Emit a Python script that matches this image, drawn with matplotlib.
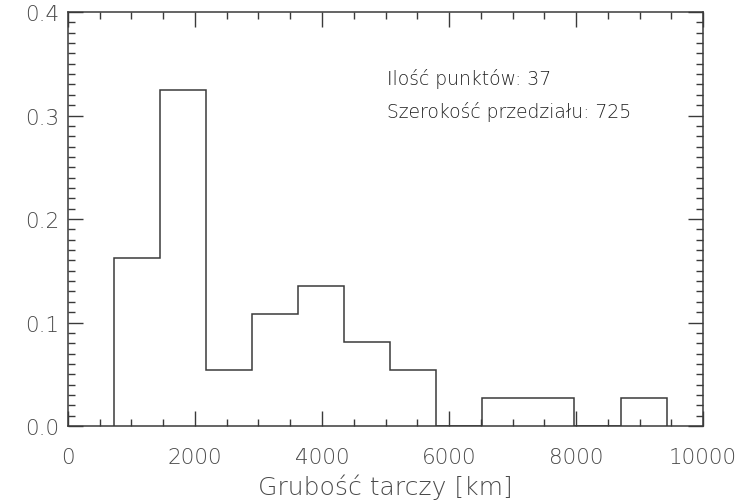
import numpy as np
import matplotlib
matplotlib.use("Agg")
import matplotlib.pyplot as plt
from matplotlib.ticker import MultipleLocator

# Histogram of disc thickness: counts per 725 km bin
bin_width = 725
bin_start = 725
counts = [6, 12, 2, 4, 5, 3, 2, 0, 1, 1, 0, 1]
n_points = sum(counts)

edges = bin_start + bin_width * np.arange(len(counts) + 1)
fractions = np.array(counts) / n_points

ink = "#3a3a3a"
txt = "#4a4a4a"
plt.rcParams["font.family"] = ["DejaVu Sans"]
plt.rcParams["font.weight"] = "light"

fig = plt.figure(figsize=(7.56, 5.02), dpi=100)
ax = fig.add_axes([0.0899, 0.1494, 0.8401, 0.8247])

ax.stairs(fractions, edges, baseline=0, fill=False, color=ink, linewidth=1.1)

ax.set_xlim(0, 10000)
ax.set_ylim(0, 0.4)
ax.xaxis.set_major_locator(MultipleLocator(2000))
ax.xaxis.set_minor_locator(MultipleLocator(500))
ax.yaxis.set_major_locator(MultipleLocator(0.1))
ax.yaxis.set_minor_locator(MultipleLocator(0.01))
ax.yaxis.set_major_formatter(plt.FuncFormatter(lambda v, p: f"{v:.1f}"))

ax.tick_params(which="both", direction="in", top=True, right=True,
               color=ink, width=1.0, labelcolor=txt, labelsize=15.5)
ax.tick_params(axis="x", which="both", pad=15)
ax.tick_params(axis="y", which="both", pad=6)
ax.tick_params(which="major", length=11)
ax.tick_params(which="minor", length=5)
for s in ax.spines.values():
    s.set_color(ink)
    s.set_linewidth(1.1)

ax.set_xlabel("Grubość tarczy [km]", fontsize=18, fontweight="light",
              color=txt, labelpad=5)

ax.text(5020, 0.336, f"Ilość punktów: {n_points}", fontsize=13.5,
        color="#222222", va="center", ha="left")
ax.text(5020, 0.304, f"Szerokość przedziału: {bin_width}", fontsize=13.5,
        color="#222222", va="center", ha="left")

fig.savefig("out.png", dpi=100)
